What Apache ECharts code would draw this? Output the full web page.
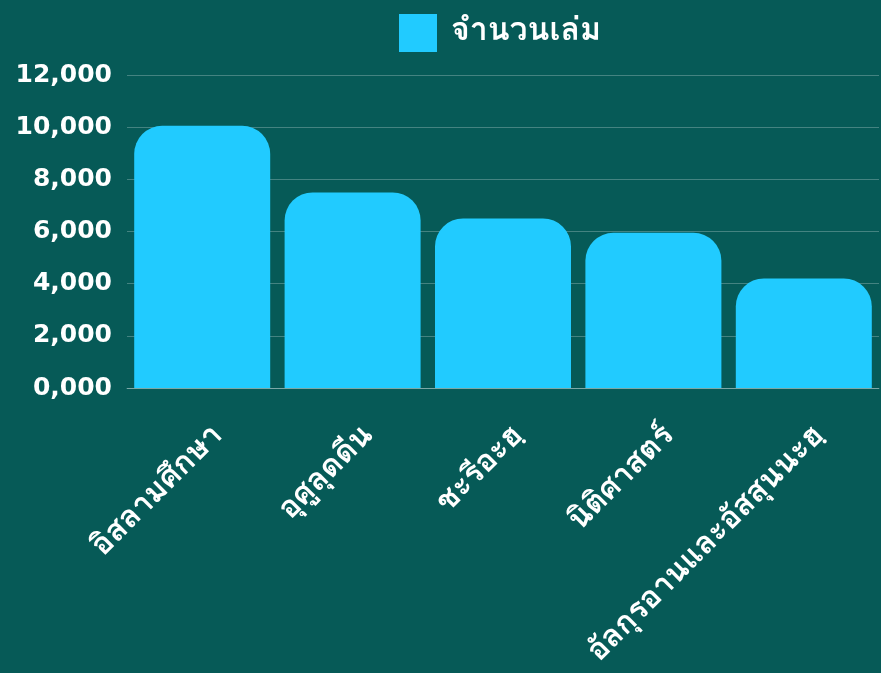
<!DOCTYPE html>
<html>
<head>
<meta charset="utf-8">
<script src="https://cdn.jsdelivr.net/npm/echarts@6/dist/echarts.min.js"></script>
<style>
html, body { margin: 0; padding: 0; background: #065a57; }
#chart { width: 881px; height: 673px; }
</style>
</head>
<body>
<div id="chart"></div>
<script>
// หมวดหมู่และจำนวนเล่ม
var categories = ['อิสลามศึกษา', 'อุศูลุดดีน', 'ชะรีอะฮฺ', 'นิติศาสตร์', 'อัลกุรอานและอัสสุนนะฮฺ'];
var bookCounts = [10050, 7500, 6500, 5950, 4200];
var seriesName = 'จำนวนเล่ม';

var thaiFont = 'Loma, Garuda, "Noto Sans Thai", "Noto Sans", sans-serif';

function padNum(v) {
    // 0 -> 0,000
    var s = String(v);
    while (s.length < 4) s = '0' + s;
    return s.replace(/\B(?=(\d{3})+(?!\d))/g, ',');
}

var myChart = echarts.init(document.getElementById('chart'));
var option = {
    backgroundColor: '#065a57',
    animation: false,
    legend: {
        data: [seriesName],
        top: 9,
        left: 394,
        itemWidth: 38,
        itemHeight: 38,
        icon: 'rect',
        textStyle: {
            color: '#ffffff',
            fontSize: 32,
            fontWeight: 'bold',
            fontFamily: thaiFont,
            padding: [0, 0, 0, 9]
        }
    },
    grid: {
        left: 127,
        right: 2,
        top: 75,
        bottom: 285
    },
    xAxis: {
        type: 'category',
        data: categories,
        axisTick: { show: false },
        axisLine: { lineStyle: { color: 'rgba(255,255,255,0.3)', width: 1 } },
        axisLabel: {
            color: '#ffffff',
            fontSize: 31,
            fontWeight: 'bold',
            fontFamily: thaiFont,
            rotate: 45,
            margin: 27,
            verticalAlign: 'top',
            padding: [8, 0, 0, 0],
            interval: 0
        }
    },
    yAxis: {
        type: 'value',
        min: 0,
        max: 12000,
        interval: 2000,
        axisLine: { show: false },
        axisTick: { show: false },
        splitLine: { lineStyle: { color: 'rgba(255,255,255,0.25)', width: 1 } },
        axisLabel: {
            color: '#ffffff',
            fontSize: 25,
            fontWeight: 'bold',
            fontFamily: 'DejaVu Sans, sans-serif',
            margin: 15,
            formatter: padNum
        }
    },
    series: [{
        name: seriesName,
        type: 'bar',
        data: bookCounts,
        barWidth: 136,
        itemStyle: {
            color: '#21cbff',
            borderRadius: [28, 28, 0, 0]
        }
    }]
};
myChart.setOption(option);
</script>
</body>
</html>
